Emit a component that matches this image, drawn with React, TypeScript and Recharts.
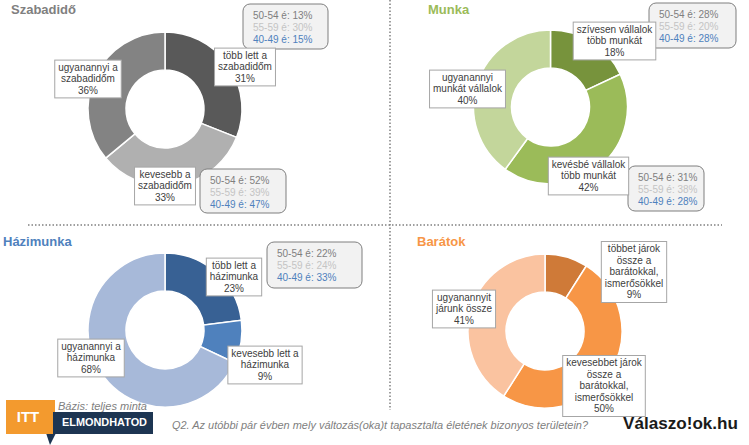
import React from "react";
import { PieChart, Pie, Cell } from "recharts";

const W = 749;
const H = 445;

const ageGroups = ["50-54 é", "55-59 é", "40-49 é"];
const ageColors = ["#7f7f7f", "#c4c4c4", "#4f81bd"];

// Szabadidő
const szabadidoCategories = ["több lett a\nszabadidőm", "kevesebb a\nszabadidőm", "ugyanannyi a\nszabadidőm"];
const szabadidoValues = [31, 33, 36];
const szabadidoAges = [[13, 30, 15], [52, 39, 47], null];

// Munka
const munkaCategories = ["szívesen vállalok\ntöbb munkát", "kevésbé vállalok\ntöbb munkát", "ugyanannyi\nmunkát vállalok"];
const munkaValues = [18, 42, 40];
const munkaAges = [[28, 20, 28], [31, 38, 28], null];

// Házimunka
const hazimunkaCategories = ["több lett a\nházimunka", "kevesebb lett a\nházimunka", "ugyanannyi a\nházimunka"];
const hazimunkaValues = [23, 9, 68];
const hazimunkaAges = [[22, 24, 33], null, null];

// Barátok
const baratokCategories = [
  "többet járok\nössze a\nbarátokkal,\nismerősökkel",
  "kevesebbet járok\nössze a\nbarátokkal,\nismerősökkel",
  "ugyanannyit\njárunk össze",
];
const baratokValues = [9, 50, 41];
const baratokAges = [null, null, null];

const FONT = "'Liberation Sans', Arial, sans-serif";

let ctx: CanvasRenderingContext2D | null = null;
const measure = (s: string) => {
  if (!ctx) ctx = document.createElement("canvas").getContext("2d");
  if (!ctx) return s.length * 5.3;
  ctx.font = `10px ${FONT}`;
  return ctx.measureText(s).width;
};

const panels = [
  {
    key: "szabadido",
    title: "Szabadidő",
    titleColor: "#808080",
    titleX: 11,
    titleY: 14,
    categories: szabadidoCategories,
    values: szabadidoValues,
    ages: szabadidoAges,
    colors: ["#595959", "#b0b0b0", "#838383"],
    cx: 165,
    cy: 109,
    labelPos: [[80, -42], [0, 77], [-77, -30]],
    boxes: [{ dx: 78, dy: -105, w: 85, h: 45 }, { dx: 35, dy: 60, w: 86, h: 44 }, null],
  },
  {
    key: "munka",
    title: "Munka",
    titleColor: "#9bbb59",
    titleX: 428,
    titleY: 14,
    categories: munkaCategories,
    values: munkaValues,
    ages: munkaAges,
    colors: ["#77933c", "#9bbb59", "#c3d69b"],
    cx: 550.5,
    cy: 107,
    labelPos: [[64, -66], [38, 69], [-83, -18]],
    boxes: [{ dx: 98.5, dy: -104, w: 87, h: 45 }, { dx: 77.5, dy: 59, w: 76, h: 45 }, null],
  },
  {
    key: "hazimunka",
    title: "Házimunka",
    titleColor: "#4f81bd",
    titleX: 3,
    titleY: 246,
    categories: hazimunkaCategories,
    values: hazimunkaValues,
    ages: hazimunkaAges,
    colors: ["#386194", "#4f81bd", "#a7b9d9"],
    cx: 165,
    cy: 330,
    labelPos: [[69, -53], [100, 35], [-74, 28]],
    boxes: [{ dx: 102, dy: -88, w: 95, h: 46 }, null, null],
  },
  {
    key: "baratok",
    title: "Barátok",
    titleColor: "#f79646",
    titleX: 417,
    titleY: 246,
    categories: baratokCategories,
    values: baratokValues,
    ages: baratokAges,
    colors: ["#cf7a38", "#f79646", "#fac3a0"],
    cx: 545,
    cy: 331,
    labelPos: [[89, -59], [59, 55], [-81, -22]],
    boxes: [null, null, null],
  },
];

type Panel = (typeof panels)[number];

const makeLabel = (panel: Panel) => (props: any) => {
  const i = props.index;
  const lines = [...panel.categories[i].split("\n"), `${panel.values[i]}%`];
  const [dx, dy] = panel.labelPos[i];
  const x = panel.cx + dx;
  const y = panel.cy + dy;
  const w = Math.max(...lines.map(measure)) + 7;
  const h = lines.length * 11.6 + 3;
  const box = panel.boxes[i];
  const ages = panel.ages[i];
  return (
    <g key={`${panel.key}-lbl-${i}`}>
      {box && ages && (
        <g>
          <rect
            x={panel.cx + box.dx}
            y={panel.cy + box.dy}
            width={box.w}
            height={box.h}
            rx={7}
            fill="#f2f2f2"
            stroke="#7f7f7f"
            strokeWidth={1}
          />
          {ages.map((v, j) => (
            <text
              key={j}
              x={panel.cx + box.dx + 10}
              y={panel.cy + box.dy + 15 + j * 12}
              fontSize={10}
              fill={ageColors[j]}
            >
              {`${ageGroups[j]}: ${v}%`}
            </text>
          ))}
        </g>
      )}
      <rect x={x - w / 2} y={y - h / 2} width={w} height={h} fill="#fff" stroke="#a6a6a6" strokeWidth={1} />
      {lines.map((l, j) => (
        <text key={j} x={x} y={y - h / 2 + 10.5 + j * 11.6} textAnchor="middle" fontSize={10} fill="#404040">
          {l}
        </text>
      ))}
    </g>
  );
};

export default function App() {
  return (
    <div
      style={{
        position: "absolute",
        left: 0,
        top: 0,
        width: W,
        height: H,
        background: "#fff",
        fontFamily: FONT,
      }}
    >
      <svg width={W} height={H} style={{ position: "absolute", left: 0, top: 0 }}>
        <line x1={390} y1={0} x2={390} y2={410} stroke="#808080" strokeWidth={1.5} strokeDasharray="1.5 2" />
        <line x1={28} y1={225} x2={722} y2={225} stroke="#808080" strokeWidth={1.5} strokeDasharray="1.5 2" />
        {panels.map((p) => (
          <text key={p.key} x={p.titleX} y={p.titleY} fontSize={13} fontWeight="bold" fill={p.titleColor}>
            {p.title}
          </text>
        ))}
      </svg>
      <div style={{ position: "absolute", left: 0, top: 0 }}>
        <PieChart width={W} height={H} margin={{ top: 0, right: 0, bottom: 0, left: 0 }}>
          {panels.map((p) => (
            <Pie
              key={p.key}
              data={p.values.map((v, i) => ({ name: p.categories[i], value: v }))}
              dataKey="value"
              nameKey="name"
              cx={p.cx}
              cy={p.cy}
              innerRadius={39}
              outerRadius={77}
              startAngle={90}
              endAngle={-270}
              stroke="#ffffff"
              strokeWidth={1.5}
              label={makeLabel(p)}
              labelLine={false}
              isAnimationActive={false}
            >
              {p.values.map((_, i) => (
                <Cell key={i} fill={p.colors[i]} />
              ))}
            </Pie>
          ))}
        </PieChart>
      </div>
      <svg width={W} height={H} style={{ position: "absolute", left: 0, top: 0, pointerEvents: "none" }}>
        <polygon points="46,433 56,433 50,445" fill="#1d3552" />
        <rect x={6} y={400} width={49} height={34} fill="#f39a2e" />
        <text x={28} y={422} fontSize={15} fontWeight="bold" fill="#fff" textAnchor="middle">
          ITT
        </text>
        <rect x={53} y={412} width={100} height={22} fill="#1d3552" />
        <text x={62} y={426} fontSize={10.5} fontWeight="bold" fill="#fff" textLength={85} lengthAdjust="spacingAndGlyphs">
          ELMONDHATOD
        </text>
        <text x={58} y={410} fontSize={11} fontStyle="italic" fill="#808080" textLength={89} lengthAdjust="spacingAndGlyphs">
          Bázis: teljes minta
        </text>
        <text x={172} y={429} fontSize={11} fontStyle="italic" fill="#808080" textLength={416} lengthAdjust="spacingAndGlyphs">
          Q2. Az utóbbi pár évben mely változás(oka)t tapasztalta életének bizonyos területein?
        </text>
        <text x={623} y={429} fontSize={16.5} fontWeight="bold" fill="#1a1a1a" textLength={115} lengthAdjust="spacingAndGlyphs">
          Válaszo!ok.hu
        </text>
      </svg>
    </div>
  );
}
